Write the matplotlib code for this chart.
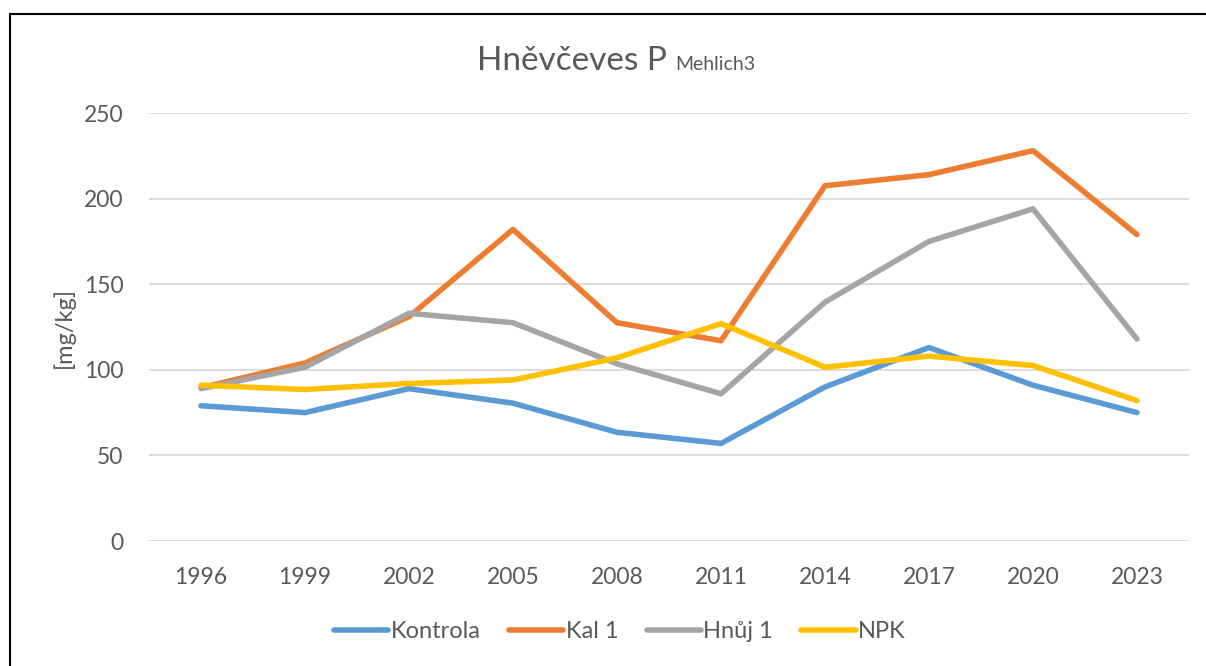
import numpy as np
import matplotlib.pyplot as plt
from matplotlib.patches import Rectangle

# data
years = ['1996', '1999', '2002', '2005', '2008', '2011', '2014', '2017', '2020', '2023']
kontrola = [79, 75, 89, 80.5, 63.5, 57, 90, 113, 91, 75]
kal1 = [89.5, 104, 131, 182, 127.5, 117, 207.5, 214, 228, 179]
hnuj1 = [89, 101.5, 133, 127.5, 103.5, 86, 139.5, 175, 194, 118]
npk = [91, 88.5, 92, 94, 107, 127, 101.5, 108, 102.5, 82]

series = [('Kontrola', kontrola, '#5B9BD5'),
          ('Kal 1', kal1, '#ED7D31'),
          ('Hnůj 1', hnuj1, '#A5A5A5'),
          ('NPK', npk, '#FFC000')]

plt.rcParams['font.family'] = ['Lato', 'DejaVu Sans']
txt = '#595959'

fig = plt.figure(figsize=(12.06, 6.66), dpi=100)
ax = fig.add_axes([149 / 1206, 1 - 541 / 666, (1189 - 149) / 1206, (541 - 113) / 666])

x = np.arange(len(years))
for name, vals, col in series:
    ax.plot(x, vals, color=col, linewidth=4, label=name, solid_capstyle='round', solid_joinstyle='round')

ax.set_xlim(-0.5, len(years) - 0.5)
ax.set_ylim(0, 250)
ax.set_yticks(range(0, 251, 50))
ax.set_xticks(x)
ax.set_xticklabels(years)
ax.grid(axis='y', color='#D9D9D9', linewidth=1.3)
ax.set_axisbelow(True)
for s in ax.spines.values():
    s.set_visible(False)
ax.tick_params(length=0, labelsize=16.5, colors=txt)
ax.tick_params(axis='x', pad=19)
ax.tick_params(axis='y', pad=18.5)
ax.set_ylabel('[mg/kg]', fontsize=17, color=txt, labelpad=6)

# titulek s dolnim indexem
fig.text(0.553, 1 - 70 / 666, 'Hněvčeves P', fontsize=24, color=txt, ha='right', va='baseline')
fig.text(0.560, 1 - 70 / 666, 'Mehlich3', fontsize=14, color=txt, ha='left', va='baseline')

leg = fig.legend(loc='center', bbox_to_anchor=(0.514, 1 - 632 / 666), ncol=4, frameon=False,
                 fontsize=17, handlelength=2.3, handletextpad=0.1, columnspacing=1.2)
for t in leg.get_texts():
    t.set_color(txt)

fig.patches.append(Rectangle((10 / 1206, -0.1), 1.2, 1 - 14 / 666 + 0.1, transform=fig.transFigure,
                             fill=False, edgecolor='black', linewidth=1.5))

fig.savefig('out.png', dpi=100)
